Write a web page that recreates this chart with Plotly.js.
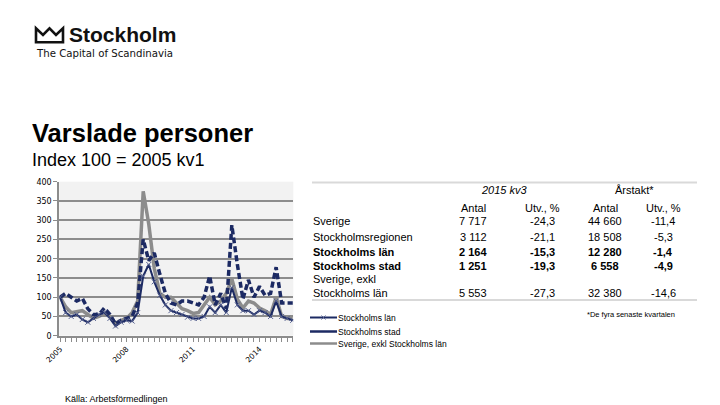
<!DOCTYPE html>
<html>
<head>
<meta charset="utf-8">
<script src="https://cdn.plot.ly/plotly-3.0.1.min.js"></script>
<style>html,body{margin:0;padding:0;background:#fff;}#chart{width:720px;height:405px;}</style>
</head>
<body>
<div id="chart"></div>
<script>
// ---- Data (index 100 = 2005 kv1), quarterly 2005 kv1 .. 2015 kv3 ----
const yearTicks = [2005, 2008, 2011, 2014];
const seriesNames = ["Stockholms län", "Stockholms stad", "Sverige, exkl Stockholms län"];
const stockholmsLan = [100,60,50,55,42,35,45,55,60,45,25,35,40,38,60,155,185,140,105,80,65,60,55,48,45,45,50,75,60,80,60,125,80,65,65,55,65,60,50,90,50,45,40];
const stockholmsStad = [100,110,100,90,97,70,55,55,72,55,30,40,45,50,85,250,195,215,160,110,85,80,90,90,85,80,100,155,80,110,70,287,185,95,145,100,128,105,110,178,85,85,85];
const sverigeExkl = [100,75,60,62,65,55,45,50,58,50,32,40,45,60,90,375,290,175,110,100,100,85,70,65,58,60,80,100,80,90,110,148,95,72,90,85,72,65,55,100,50,45,45];

// ---- Table data ----
const tableRows = ["Sverige", "Stockholmsregionen", "Stockholms län", "Stockholms stad", "Sverige, exkl<br>Stockholms län"];
const tableBold = [false, false, true, true, false];
const antal2015kv3 = [7717, 3112, 2164, 1251, 5553];
const utv2015kv3 = [-24.3, -21.1, -15.3, -19.3, -27.3];
const antalArstakt = [44660, 18508, 12280, 6558, 32380];
const utvArstakt = [-11.4, -5.3, -1.4, -4.9, -14.6];
const colHeaders = ["Antal", "Utv., %", "Antal", "Utv., %"];
const groupHeaders = ["2015 kv3", "Årstakt*"];

// ---- helpers ----
const W = 720, H = 405;
const px = v => v / W;
const py = v => 1 - v / H;
const fmtInt = n => String(n).replace(/\B(?=(\d{3})+(?!\d))/g, " ");
const fmtDec = n => n.toFixed(1).replace(".", ",");

// quarter positions (0 = 2005 kv1)
const xIdx = stockholmsLan.map((_, i) => i);
const quarterLabels = xIdx.map(i => (2005 + Math.floor(i / 4)) + " kv" + (i % 4 + 1));
const tickPositions = yearTicks.map(y => (y - 2005) * 4);

const navy = "#1c2a63";
const grey = "#8c8c8c";

const traces = [
  {
    x: xIdx, y: sverigeExkl, text: quarterLabels, name: seriesNames[2], type: "scatter", mode: "lines",
    line: {color: grey, width: 3.5}, hoverinfo: "text+y"
  },
  {
    x: xIdx, y: stockholmsStad, text: quarterLabels, name: seriesNames[1], type: "scatter", mode: "lines",
    line: {color: navy, width: 3.5, dash: "6px,3px"}, hoverinfo: "text+y"
  },
  {
    x: xIdx, y: stockholmsLan, text: quarterLabels, name: seriesNames[0], type: "scatter", mode: "lines+markers",
    line: {color: navy, width: 2},
    marker: {symbol: "x-thin", size: 5, line: {color: "#55608f", width: 1}}, hoverinfo: "text+y"
  }
];

const annotations = [];
const shapes = [];
const txt = (x, y, text, opts) => annotations.push(Object.assign({
  xref: "paper", yref: "paper", x: px(x), y: py(y), text: text, showarrow: false,
  xanchor: "left", yanchor: "middle", font: {family: "Liberation Sans, Arial, sans-serif", size: 11, color: "#000"}
}, opts || {}));

// Logo
shapes.push({type: "path", xref: "paper", yref: "paper",
  path: `M${px(36)},${py(42.3)} L${px(36)},${py(28.3)} L${px(43)},${py(35)} L${px(49.5)},${py(28.3)} L${px(56)},${py(35)} L${px(63)},${py(28.3)} L${px(63)},${py(42.3)} Z`,
  line: {color: "#111", width: 2.6}, fillcolor: "rgba(0,0,0,0)"});
txt(66.5, 35, "<b>Stockholm</b>", {font: {family: "Liberation Sans, Arial, sans-serif", size: 21, color: "#111"}});
txt(34, 53, "The Capital of Scandinavia", {font: {family: "DejaVu Sans, sans-serif", size: 10.2, color: "#111"}});

// Titles
txt(30, 133, "<b>Varslade personer</b>", {font: {family: "Liberation Sans, Arial, sans-serif", size: 25.5, color: "#000"}});
txt(30, 159.5, "Index 100 = 2005 kv1", {font: {family: "Liberation Sans, Arial, sans-serif", size: 18, color: "#000"}});

// Table
const tableLeft = 312, tableRight = 697;
shapes.push({type: "line", xref: "paper", yref: "paper", x0: px(tableLeft), x1: px(tableRight), y0: py(182.5), y1: py(182.5), line: {color: "#d9d9d9", width: 2}});
shapes.push({type: "line", xref: "paper", yref: "paper", x0: px(tableLeft), x1: px(tableRight), y0: py(300), y1: py(300), line: {color: "#d9d9d9", width: 2}});
const groupX = [505, 634];
groupHeaders.forEach((g, i) => txt(groupX[i], 190, i === 0 ? "<i>" + g + "</i>" : g, {xanchor: "center"}));
const colX = [473, 542, 605, 663];
colHeaders.forEach((c, i) => txt(colX[i], 207.5, c, {xanchor: "center"}));
const rowY = [221, 236.7, 251.7, 265.7, 293.3];
const labelY = [221, 236.7, 251.7, 265.7, 286.3];
tableRows.forEach((r, i) => {
  const b = s => tableBold[i] ? "<b>" + s + "</b>" : s;
  txt(tableLeft - 1, labelY[i], b(r), {align: "left"});
  txt(colX[0], rowY[i], b(fmtInt(antal2015kv3[i])), {xanchor: "center"});
  txt(colX[1], rowY[i], b(fmtDec(utv2015kv3[i])), {xanchor: "center"});
  txt(colX[2], rowY[i], b(fmtInt(antalArstakt[i])), {xanchor: "center"});
  txt(colX[3], rowY[i], b(fmtDec(utvArstakt[i])), {xanchor: "center"});
});
txt(585, 314, "*De fyra senaste kvartalen", {font: {family: "Liberation Sans, Arial, sans-serif", size: 7.5, color: "#000"}});

// Manual legend
const legY = [317.5, 331.5, 343.5];
const legStyles = [{color: navy, width: 2}, {color: navy, width: 2.5}, {color: grey, width: 2.5}];
seriesNames.forEach((n, i) => {
  shapes.push({type: "line", xref: "paper", yref: "paper", x0: px(310), x1: px(337), y0: py(legY[i]), y1: py(legY[i]), line: legStyles[i]});
  txt(335.5, legY[i], n, {font: {family: "Liberation Sans, Arial, sans-serif", size: 8.5, color: "#000"}});
});
shapes.push({type: "path", xref: "paper", yref: "paper",
  path: `M${px(321.5)},${py(315.5)} L${px(325.5)},${py(319.5)} M${px(321.5)},${py(319.5)} L${px(325.5)},${py(315.5)}`,
  line: {color: "#55608f", width: 1}});

// Source
txt(63, 399, "Källa: Arbetsförmedlingen", {font: {family: "Liberation Sans, Arial, sans-serif", size: 9, color: "#000"}});

const layout = {
  width: W, height: H,
  margin: {l: 0, r: 0, t: 0, b: 0},
  paper_bgcolor: "#ffffff",
  plot_bgcolor: "#f2f2f2",
  showlegend: false,
  xaxis: {
    domain: [px(59.3), px(293.3)],
    range: [-0.15, 42.1],
    tickmode: "array", tickvals: tickPositions, ticktext: yearTicks.map(String),
    tickangle: -45, ticks: "outside", ticklen: 4, tickcolor: grey, tickwidth: 1,
    minor: {tickmode: "linear", tick0: 0, dtick: 1, ticks: "outside", ticklen: 4, tickcolor: grey, tickwidth: 1, showgrid: false},
    showgrid: false, zeroline: false,
    showline: true, linecolor: grey, linewidth: 2,
    tickfont: {family: "DejaVu Sans, Verdana, sans-serif", size: 7.5, color: "#000"},
    fixedrange: true
  },
  yaxis: {
    domain: [py(335.7), py(181.7)],
    range: [0, 400], dtick: 50,
    ticks: "outside", ticklen: 4, tickcolor: grey, tickwidth: 1,
    showgrid: true, gridcolor: grey, gridwidth: 2,
    zeroline: false, showline: true, linecolor: grey, linewidth: 2,
    tickfont: {family: "DejaVu Sans, Verdana, sans-serif", size: 8, color: "#000"},
    fixedrange: true
  },
  annotations: annotations,
  shapes: shapes
};

Plotly.newPlot("chart", traces, layout, {displayModeBar: false, staticPlot: true});
</script>
</body>
</html>
